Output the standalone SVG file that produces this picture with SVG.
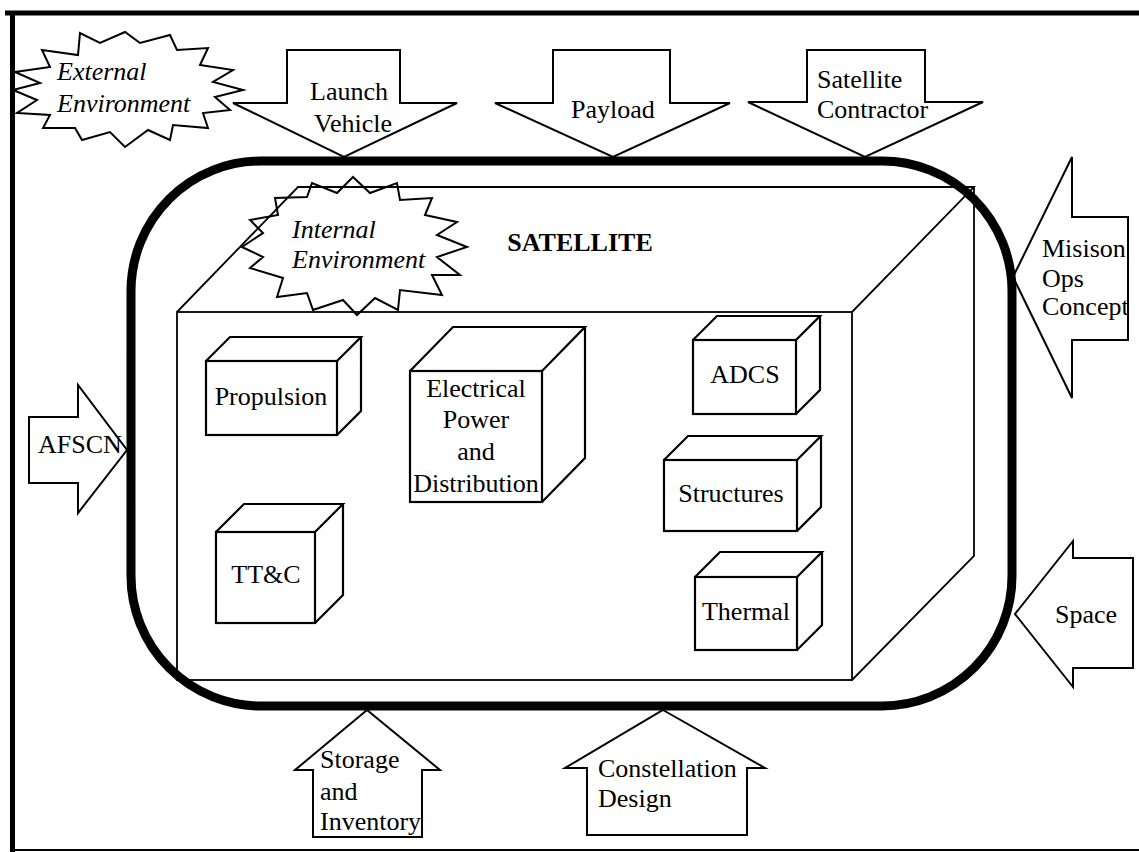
<svg xmlns="http://www.w3.org/2000/svg" width="1139" height="852" viewBox="0 0 1139 852">
  <style>
    .t { font-family: "Liberation Serif", "Times New Roman", serif; font-size: 26px; fill: #000; }
    .i { font-style: italic; }
    .c { text-anchor: middle; }
    .shape { fill: #fff; stroke: #000; stroke-width: 2; stroke-linejoin: miter; }
    .burst { fill: none; stroke: #000; stroke-width: 2; }
    .cube { fill: none; stroke: #000; stroke-width: 2.2; }
    .big { fill: none; stroke: #000; stroke-width: 1.8; }
  </style>
  <rect width="1139" height="852" fill="#fff"/>

  <!-- page frame -->
  <g id="frame" stroke="#000" fill="none">
    <line x1="5" y1="13" x2="1139" y2="13" stroke-width="5"/>
    <line x1="12.5" y1="11" x2="12.5" y2="852" stroke-width="5"/>
    <line x1="10" y1="850" x2="1139" y2="850" stroke-width="2"/>
  </g>

  <!-- satellite body (large box) -->
  <g id="satellite-body">
    <rect class="big" x="177" y="312" width="675" height="368"/>
    <path class="big" d="M177 312 L298 187 L974 187 L852 312 M974 187 L974 556 L852 680"/>
    <text class="t" x="580" y="251" text-anchor="middle" font-weight="bold">SATELLITE</text>
  </g>

  <!-- environment bursts -->
  <g id="external-environment">
    <polygon class="burst" points="15,72 50,67 42,50 78,55 80,33 100,43 125,32 140,43 170,35 177,50 208,48 200,65 233,70 213,82 243,90 215,97 230,110 203,113 208,128 173,125 170,140 148,130 125,147 110,132 82,140 75,128 43,128 50,115 17,113 37,100 13,90 40,83"/>
    <text class="t i" x="57" y="80">External</text>
    <text class="t i" x="57" y="112">Environment</text>
  </g>
  <g id="internal-environment">
    <polygon class="burst" points="353,177 370,193 397,183 400,200 432,198 425,215 457,222 437,235 467,247 437,257 460,275 432,275 442,295 400,290 398,310 375,298 357,315 343,300 313,310 307,293 277,297 283,278 250,268 263,257 242,247 263,233 250,220 278,215 275,198 307,197 312,183 337,193"/>
    <text class="t i" x="292" y="238">Internal</text>
    <text class="t i" x="292" y="268">Environment</text>
  </g>

  <!-- subsystem boxes -->
  <g id="propulsion">
    <rect class="cube" x="206" y="361" width="131" height="74"/>
    <path class="cube" d="M206 361 L230 337 L361 337 L337 361 M361 337 L361 411 L337 435"/>
    <text class="t c" x="271" y="405">Propulsion</text>
  </g>
  <g id="electrical-power">
    <rect class="cube" x="410" y="371" width="132" height="131"/>
    <path class="cube" d="M410 371 L453 327 L585 327 L542 371 M585 327 L585 458 L542 502"/>
    <text class="t c" x="476" y="397">Electrical</text>
    <text class="t c" x="476" y="428">Power</text>
    <text class="t c" x="476" y="460">and</text>
    <text class="t c" x="476" y="492">Distribution</text>
  </g>
  <g id="ttc">
    <rect class="cube" x="216" y="532" width="99" height="91"/>
    <path class="cube" d="M216 532 L244 504 L343 504 L315 532 M343 504 L343 595 L315 623"/>
    <text class="t c" x="266" y="583">TT&amp;C</text>
  </g>
  <g id="adcs">
    <rect class="cube" x="693" y="340" width="103" height="74"/>
    <path class="cube" d="M693 340 L717 316 L820 316 L796 340 M820 316 L820 390 L796 414"/>
    <text class="t c" x="745" y="383">ADCS</text>
  </g>
  <g id="structures">
    <rect class="cube" x="664" y="460" width="133" height="71"/>
    <path class="cube" d="M664 460 L688 436 L821 436 L797 460 M821 436 L821 507 L797 531"/>
    <text class="t c" x="731" y="502">Structures</text>
  </g>
  <g id="thermal">
    <rect class="cube" x="695" y="577" width="102" height="73"/>
    <path class="cube" d="M695 577 L720 552 L822 552 L797 577 M822 552 L822 625 L797 650"/>
    <text class="t c" x="746" y="620">Thermal</text>
  </g>

  <!-- external influences (block arrows) -->
  <g id="connectors">
    <g id="launch-vehicle">
      <polygon class="shape" points="287,50 400,50 400,103 457,103 344,157 233,103 287,103"/>
      <text class="t" x="310" y="100">Launch</text>
      <text class="t" x="314" y="132">Vehicle</text>
    </g>
    <g id="payload">
      <polygon class="shape" points="553,50 670,50 670,103 730,103 613,157 495,103 553,103"/>
      <text class="t c" x="613" y="118">Payload</text>
    </g>
    <g id="satellite-contractor">
      <polygon class="shape" points="807,50 925,50 925,102 983,102 865,157 748,102 807,102"/>
      <text class="t" x="817" y="88">Satellite</text>
      <text class="t" x="817" y="118">Contractor</text>
    </g>
    <g id="mission-ops">
      <polygon class="shape" points="1072,157 1072,217 1128,217 1128,340 1072,340 1072,398 1013,277"/>
      <text class="t" x="1042" y="257">Misison</text>
      <text class="t" x="1042" y="287">Ops</text>
      <text class="t" x="1042" y="315">Concept</text>
    </g>
    <g id="afscn">
      <polygon class="shape" points="29,417 78,417 78,385 127,450 78,513 78,483 29,483"/>
      <text class="t" x="38" y="453" font-size="24">AFSCN</text>
    </g>
    <g id="space">
      <polygon class="shape" points="1073,541 1073,558 1133,558 1133,668 1073,668 1073,687 1015,614"/>
      <text class="t" x="1055" y="623" font-size="30">Space</text>
    </g>
    <g id="storage">
      <polygon class="shape" points="367,710 440,770 422,770 422,837 313,837 313,770 295,770"/>
      <text class="t" x="320" y="768">Storage</text>
      <text class="t" x="320" y="800">and</text>
      <text class="t" x="320" y="830">Inventory</text>
    </g>
    <g id="constellation">
      <polygon class="shape" points="663,710 765,768 747,768 747,835 587,835 587,768 565,768"/>
      <text class="t" x="598" y="777">Constellation</text>
      <text class="t" x="598" y="807">Design</text>
    </g>
  </g>

  <!-- system boundary -->
  <g id="boundary">
    <rect x="131" y="161" width="881" height="545" rx="130" ry="130" fill="none" stroke="#000" stroke-width="9"/>
  </g>
</svg>
